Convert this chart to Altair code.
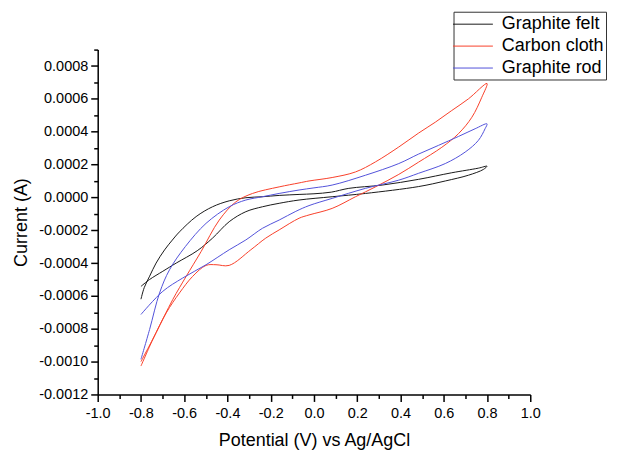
import altair as alt
import pandas as pd

series = ["Graphite felt", "Carbon cloth", "Graphite rod"]
colors = ["#1a1a1a", "#f8402a", "#5252da"]

felt_x = [-0.80, -0.785, -0.760, -0.730, -0.691, -0.655, -0.622, -0.545, -0.469, -0.392, -0.315, -0.238,
          -0.161, -0.069, 0.0, 0.08, 0.161, 0.315, 0.484, 0.637, 0.76, 0.80,
          0.783, 0.714, 0.607, 0.484, 0.238, 0.084, -0.069, -0.161, -0.238, -0.315, -0.392, -0.469,
          -0.54, -0.637, -0.699, -0.760, -0.80]
felt_y = [-6.2e-4, -5.5e-4, -4.8e-4, -4.0e-4, -3.2e-4, -2.6e-4, -2.1e-4, -1.17e-4, -5.7e-5, -2.1e-5, -2e-6, 4e-6,
          1.2e-5, 1.8e-5, 2.2e-5, 3.2e-5, 5.5e-5, 7.5e-5, 1.1e-4, 1.5e-4, 1.78e-4, 1.9e-4,
          1.7e-4, 1.35e-4, 1.0e-4, 6.6e-5, 2.4e-5, 4e-6, -1.6e-5, -3.6e-5, -5.7e-5, -8.7e-5, -1.48e-4, -2.48e-4,
          -3.25e-4, -4.0e-4, -4.5e-4, -5.0e-4, -5.42e-4]

cloth_x = [-0.80, -0.730, -0.653, -0.591, -0.522, -0.438, -0.361, -0.284, -0.161, -0.069, -0.023, 0.084,
           0.192, 0.284, 0.392, 0.484, 0.561, 0.637, 0.714, 0.80,
           0.776, 0.730, 0.668, 0.591, 0.484, 0.392, 0.284, 0.192, 0.084, -0.023, -0.069, -0.161, -0.223,
           -0.292, -0.392, -0.453, -0.499, -0.561, -0.622, -0.683, -0.745, -0.80]
cloth_y = [-1.0e-3, -8.24e-4, -6.22e-4, -4.81e-4, -3.3e-4, -1.38e-4, -2.7e-5, 2.4e-5, 6.4e-5, 8.8e-5, 1.0e-4, 1.21e-4,
           1.55e-4, 2.16e-4, 3.07e-4, 3.92e-4, 4.58e-4, 5.29e-4, 6.0e-4, 6.94e-4,
           6.1e-4, 4.88e-4, 3.88e-4, 3.05e-4, 2.15e-4, 1.4e-4, 6.4e-5, 4e-6, -6.7e-5, -1.07e-4, -1.27e-4, -1.98e-4, -2.48e-4,
           -3.19e-4, -4.14e-4, -4.1e-4, -4.14e-4, -4.81e-4, -5.82e-4, -7.03e-4, -8.65e-4, -1.027e-3]

rod_x = [-0.80, -0.760, -0.714, -0.668, -0.595, -0.499, -0.392, -0.315, -0.238, -0.161, -0.069, 0.0,
         0.084, 0.238, 0.392, 0.484, 0.576, 0.668, 0.745, 0.80,
         0.791, 0.760, 0.699, 0.607, 0.484, 0.392, 0.238, 0.084, -0.023, -0.084, -0.161, -0.238, -0.315,
         -0.392, -0.499, -0.607, -0.699, -0.80]
rod_y = [-9.86e-4, -8.04e-4, -5.82e-4, -4.41e-4, -3.0e-4, -1.58e-4, -5.7e-5, -1.6e-5, 4e-6, 2.4e-5, 4.5e-5, 5.8e-5,
         7.5e-5, 1.35e-4, 2.06e-4, 2.64e-4, 3.17e-4, 3.71e-4, 4.18e-4, 4.48e-4,
         4.18e-4, 3.47e-4, 2.76e-4, 2.06e-4, 1.47e-4, 1.05e-4, 5.5e-5, -6e-6, -5.0e-5, -8.5e-5, -1.38e-4, -1.88e-4, -2.59e-4,
         -3.19e-4, -4.1e-4, -4.91e-4, -5.72e-4, -7.13e-4]

x_major = [-1.0, -0.8, -0.6, -0.4, -0.2, 0.0, 0.2, 0.4, 0.6, 0.8, 1.0]
x_minor = [-0.9, -0.7, -0.5, -0.3, -0.1, 0.1, 0.3, 0.5, 0.7, 0.9]
y_major = [-0.0012, -0.0010, -0.0008, -0.0006, -0.0004, -0.0002, 0.0, 0.0002, 0.0004, 0.0006, 0.0008]
y_minor = [-0.0011, -0.0009, -0.0007, -0.0005, -0.0003, -0.0001, 0.0001, 0.0003, 0.0005, 0.0007, 0.0009]

rows = []
for name, xs, ys in [(series[0], felt_x, felt_y), (series[1], cloth_x, cloth_y), (series[2], rod_x, rod_y)]:
    for i, (xv, yv) in enumerate(zip(xs, ys)):
        rows.append({"series": name, "E": xv, "I": yv, "order": i})
df = pd.DataFrame(rows)

FONT = "Liberation Sans"
xscale = alt.Scale(domain=[-1.0, 1.0], nice=False, zero=False)
yscale = alt.Scale(domain=[-0.0012, 0.0009], nice=False, zero=False)
MINUS = "\u2212"

axis_common = dict(grid=False, domainColor="black", domainWidth=1.5, tickColor="black", tickWidth=1.5,
                   labelFont=FONT, labelFontSize=14.5, labelColor="black", labelFlush=False,
                   labelOverlap=False,
                   titleFont=FONT, titleFontSize=18, titleFontWeight="normal", titleColor="black")

base = alt.Chart(df)
lines = base.mark_line(strokeWidth=1, interpolate="catmull-rom").encode(
    x=alt.X("E:Q", scale=xscale, axis=alt.Axis(
        values=x_major, title="Potential (V) vs Ag/AgCl", tickSize=7, labelPadding=5, titlePadding=12,
        labelExpr=f"replace(format(datum.value, '.1f'), '{MINUS}', '-')", orient="bottom", **axis_common)),
    y=alt.Y("I:Q", scale=yscale, axis=alt.Axis(
        values=y_major, title="Current (A)", tickSize=7, labelPadding=3, titlePadding=8,
        labelExpr=f"replace(format(datum.value, '.4f'), '{MINUS}', '-')", orient="left", **axis_common)),
    color=alt.Color("series:N", scale=alt.Scale(domain=series, range=colors), legend=alt.Legend(
        title=None, orient="none", legendX=357, legendY=-38, symbolType="M-2,0H2", symbolSize=400,
        symbolStrokeWidth=1, symbolOffset=7, labelOffset=18.5, labelFontSize=18, labelFont=FONT,
        labelColor="black", strokeColor="#333333", padding=2, rowPadding=2)),
    order="order:Q",
)
minor = base.mark_line(opacity=0).encode(
    x=alt.X("E:Q", scale=xscale, axis=alt.Axis(values=x_minor, labels=False, domain=False, title=None,
                                                tickSize=4, tickWidth=1.5, tickColor="black", grid=False,
                                                orient="bottom")),
    y=alt.Y("I:Q", scale=yscale, axis=alt.Axis(values=y_minor, labels=False, domain=False, title=None,
                                                tickSize=4, tickWidth=1.5, tickColor="black", grid=False,
                                                orient="left")),
    detail="series:N",
    order="order:Q",
)

chart = alt.layer(lines, minor).resolve_axis(x="independent", y="independent").properties(
    width=434, height=346,
    padding={"left": 90, "top": 41, "right": 80, "bottom": 55},
    autosize=alt.AutoSizeParams(type="none"),
).configure_view(stroke=None)

chart.save("out.html", embed_options={"renderer": "svg", "actions": False})
